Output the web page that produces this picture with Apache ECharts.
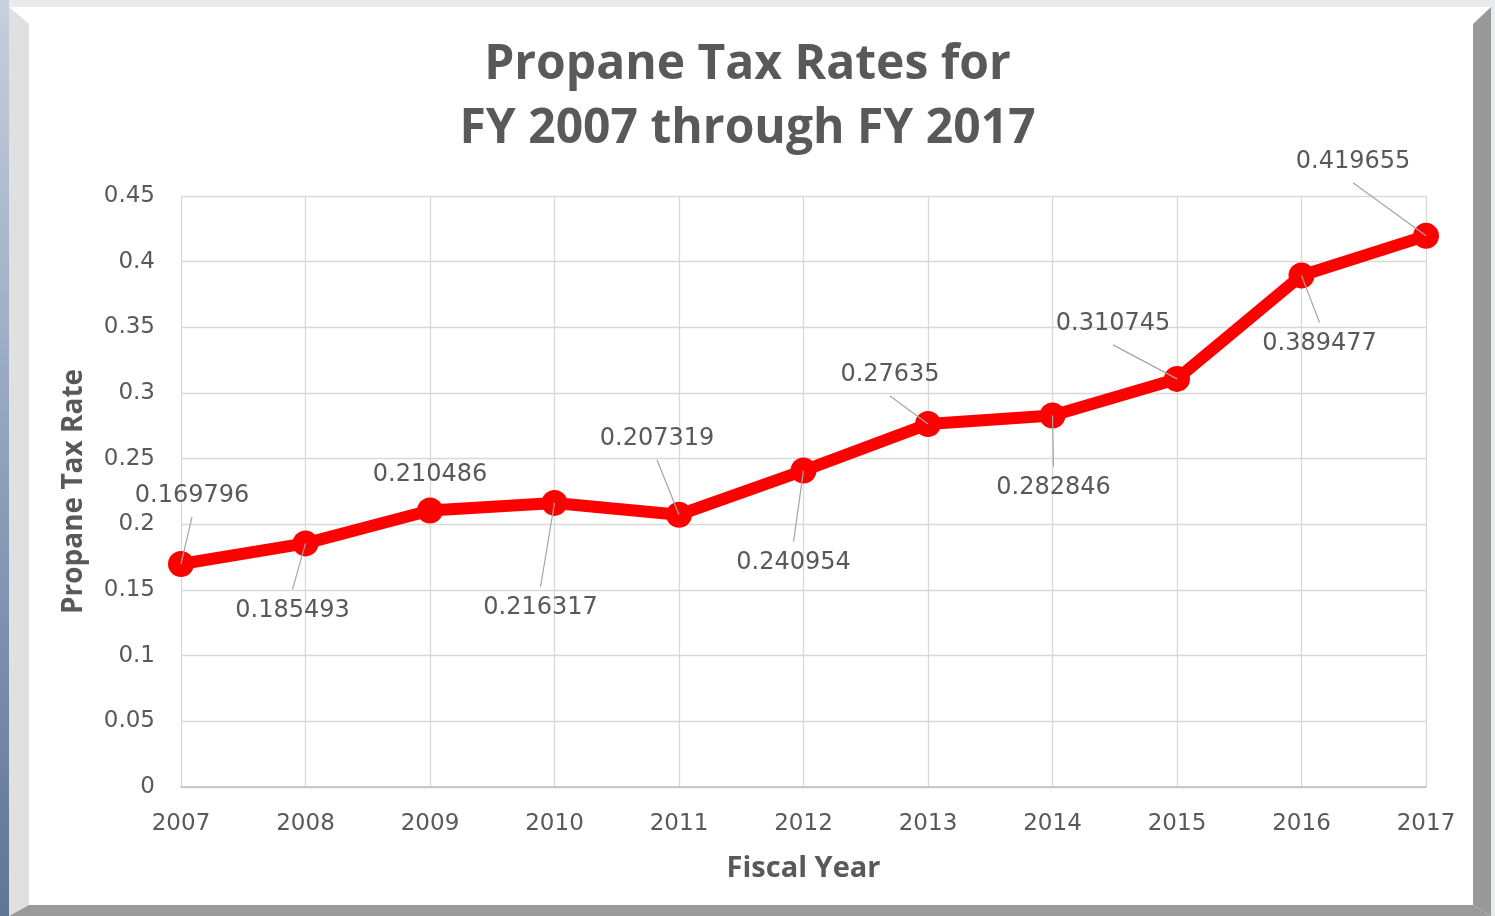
<!DOCTYPE html>
<html>
<head>
<meta charset="utf-8">
<title>Propane Tax Rates</title>
<script src="https://cdn.jsdelivr.net/npm/echarts@6/dist/echarts.min.js"></script>
<style>
    html, body { margin: 0; padding: 0; background: #e9ebef; }
    #chart { width: 1495px; height: 916px; }
</style>
</head>
<body>
<div id="chart"></div>
<script>
// 数据
const years = ['2007', '2008', '2009', '2010', '2011', '2012', '2013', '2014', '2015', '2016', '2017'];
const taxRates = [0.169796, 0.185493, 0.210486, 0.216317, 0.207319, 0.240954, 0.27635, 0.282846, 0.310745, 0.389477, 0.419655];
const yTicks = { min: 0, max: 0.45, interval: 0.05 };

// 数据标签偏移 (相对于点的中心, 像素)
const labelOffsets = [
    [11, -68], [-13, 67], [0, -36], [-14, 105], [-22, -76], [-10, 92],
    [-38, -49], [1, 72], [-64, -55], [18, 68], [-73, -74]
];
const leaderGap = 21;

const textColor = '#595959';
const titleFont = '"Open Sans", "Noto Sans", sans-serif';
const numFont = '"DejaVu Sans", sans-serif';

const chart = echarts.init(document.getElementById('chart'));

// 引导线: 从标签中心附近连到数据点
function renderLeader(params, api) {
    const i = api.value(0);
    const o = labelOffsets[i];
    const p = api.coord([i, api.value(1)]);
    const dist = Math.abs(o[1]) - leaderGap;
    if (dist < 20) {
        return null;
    }
    const sy = o[1] < 0 ? 1 : -1;
    return {
        type: 'line',
        shape: {
            x1: p[0] + o[0],
            y1: p[1] + o[1] + sy * leaderGap,
            x2: p[0],
            y2: p[1]
        },
        style: { stroke: '#a6a6a6', lineWidth: 1.2 }
    };
}

const option = {
    backgroundColor: '#e9ebef',
    animation: false,
    // 外框 (斜面效果)
    graphic: [
        {
            type: 'rect', z: -10, silent: true,
            shape: { x: 0, y: 0, width: 9, height: 916 },
            style: {
                fill: new echarts.graphic.LinearGradient(0, 0, 0, 1, [
                    { offset: 0, color: '#c7d0dc' },
                    { offset: 0.5, color: '#8ea2bd' },
                    { offset: 1, color: '#5f7595' }
                ])
            }
        },
        {
            type: 'rect', z: -10, silent: true,
            shape: { x: 9, y: 7, width: 1482, height: 909 },
            style: { fill: '#ffffff' }
        },
        {
            type: 'polygon', z: -9, silent: true,
            shape: { points: [[9, 7], [29, 24], [29, 905], [9, 916]] },
            style: { fill: '#e0e0e0' }
        },
        {
            type: 'polygon', z: -9, silent: true,
            shape: { points: [[1491, 7], [1473, 24], [1473, 905], [1491, 916]] },
            style: { fill: '#999999' }
        },
        {
            type: 'polygon', z: -9, silent: true,
            shape: { points: [[29, 905], [1473, 905], [1491, 916], [9, 916]] },
            style: { fill: '#9a9a9a' }
        }
    ],
    title: {
        text: 'Propane Tax Rates for\nFY 2007 through FY 2017',
        left: 'center',
        top: 28,
        textStyle: {
            fontFamily: titleFont,
            fontSize: 48,
            fontWeight: 'bold',
            color: textColor,
            lineHeight: 64
        }
    },
    grid: {
        left: 181,
        right: 69,
        top: 196,
        bottom: 129
    },
    xAxis: {
        type: 'category',
        data: years,
        boundaryGap: false,
        name: 'Fiscal Year',
        nameLocation: 'middle',
        nameGap: 67,
        nameTextStyle: {
            fontFamily: titleFont,
            fontSize: 29,
            fontWeight: 'bold',
            color: textColor
        },
        axisLine: { lineStyle: { color: '#bfbfbf', width: 1.5 } },
        axisTick: { show: false },
        axisLabel: {
            margin: 26,
            fontFamily: numFont,
            fontSize: 23,
            color: textColor
        },
        splitLine: { show: true, lineStyle: { color: '#d9d9d9', width: 1.3 } }
    },
    yAxis: {
        type: 'value',
        min: yTicks.min,
        max: yTicks.max,
        interval: yTicks.interval,
        name: 'Propane Tax Rate',
        nameLocation: 'middle',
        nameGap: 93,
        nameTextStyle: {
            fontFamily: titleFont,
            fontSize: 28,
            fontWeight: 'bold',
            color: textColor
        },
        axisLine: { show: false },
        axisTick: { show: false },
        axisLabel: {
            margin: 26,
            fontFamily: numFont,
            fontSize: 23,
            color: textColor
        },
        splitLine: { lineStyle: { color: '#d9d9d9', width: 1.3 } }
    },
    series: [
        {
            type: 'line',
            data: taxRates,
            symbol: 'circle',
            symbolSize: 26,
            lineStyle: { color: '#ff0000', width: 12 },
            itemStyle: { color: '#ff0000' },
            label: {
                show: true,
                position: 'inside',
                fontFamily: numFont,
                fontSize: 24,
                color: textColor,
                formatter: p => String(taxRates[p.dataIndex])
            },
            labelLayout: params => {
                const o = labelOffsets[params.dataIndex];
                return { dx: o[0], dy: o[1] };
            }
        },
        {
            type: 'custom',
            silent: true,
            z: 5,
            renderItem: renderLeader,
            data: taxRates.map((v, i) => [i, v])
        }
    ]
};

chart.setOption(option);
</script>
</body>
</html>
